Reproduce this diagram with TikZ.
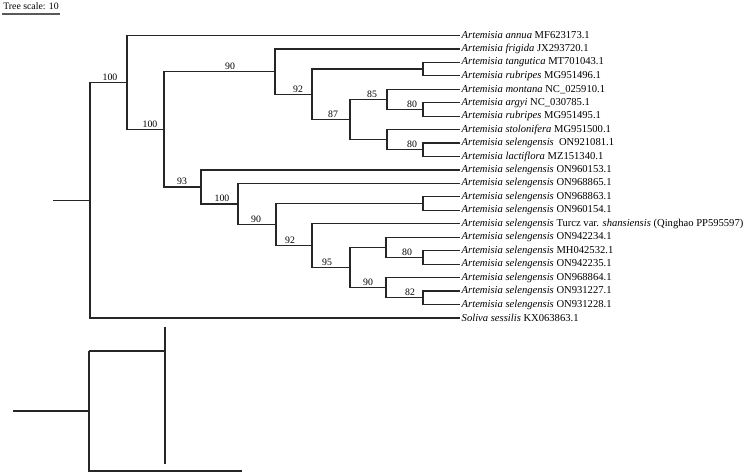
\documentclass[tikz,border=0pt]{standalone}
\usepackage{fontspec}
\setmainfont{Liberation Serif}
\begin{document}
\begin{tikzpicture}[x=1pt,y=-1pt,
  branch/.style={line width=1.2pt,draw=black!85},
  tip/.style={anchor=west,inner sep=1.5pt,font=\fontsize{10.6}{12}\selectfont},
  boot/.style={anchor=base,inner sep=0pt,font=\fontsize{9.8}{11}\selectfont},
  scalebar/.style={line width=1.4pt,draw=black!65}]
\useasboundingbox (0,0) rectangle (745,473);
% scale
\node[anchor=base,inner sep=0pt,font=\fontsize{9.8}{11}\selectfont] (scaletxt) at (31,9.5) {Tree scale: 10};
\coordinate (sbL) at (2,14);
\coordinate (sbR) at (60,14);
\draw[scalebar] (sbL) -- (sbR);
% leaves
\def\tipx{460}
\node[tip] (l0)  at (\tipx,35.5)  {\textit{Artemisia annua} MF623173.1};
\node[tip] (l1)  at (\tipx,48.95) {\textit{Artemisia frigida} JX293720.1};
\node[tip] (l2)  at (\tipx,62.4)  {\textit{Artemisia tangutica} MT701043.1};
\node[tip] (l3)  at (\tipx,75.85) {\textit{Artemisia rubripes} MG951496.1};
\node[tip] (l4)  at (\tipx,89.3)  {\textit{Artemisia montana} NC\_025910.1};
\node[tip] (l5)  at (\tipx,102.75){\textit{Artemisia argyi} NC\_030785.1};
\node[tip] (l6)  at (\tipx,116.2) {\textit{Artemisia rubripes} MG951495.1};
\node[tip] (l7)  at (\tipx,129.65){\textit{Artemisia stolonifera} MG951500.1};
\node[tip] (l8)  at (\tipx,143.1) {\textit{Artemisia selengensis}\hspace{2.5pt} ON921081.1};
\node[tip] (l9)  at (\tipx,156.55){\textit{Artemisia lactiflora} MZ151340.1};
\node[tip] (l10) at (\tipx,170)   {\textit{Artemisia selengensis} ON960153.1};
\node[tip] (l11) at (\tipx,183.45){\textit{Artemisia selengensis} ON968865.1};
\node[tip] (l12) at (\tipx,196.9) {\textit{Artemisia selengensis} ON968863.1};
\node[tip] (l13) at (\tipx,210.35){\textit{Artemisia selengensis} ON960154.1};
\node[tip] (l14) at (\tipx,223.8) {\textit{Artemisia selengensis} Turcz var. \textit{shansiensis} (Qinghao PP595597)};
\node[tip] (l15) at (\tipx,237.25){\textit{Artemisia selengensis} ON942234.1};
\node[tip] (l16) at (\tipx,250.7) {\textit{Artemisia selengensis} MH042532.1};
\node[tip] (l17) at (\tipx,264.15){\textit{Artemisia selengensis} ON942235.1};
\node[tip] (l18) at (\tipx,277.6) {\textit{Artemisia selengensis} ON968864.1};
\node[tip] (l19) at (\tipx,291.05){\textit{Artemisia selengensis} ON931227.1};
\node[tip] (l20) at (\tipx,304.5) {\textit{Artemisia selengensis} ON931228.1};
\node[tip] (l21) at (\tipx,317.95){\textit{Soliva sessilis} KX063863.1};
% internal nodes
\coordinate (F) at (423,69.1);
\coordinate (I) at (423,109.5);
\coordinate (H) at (387,99.4);
\coordinate (K) at (423,149.8);
\coordinate (J) at (387,139.7);
\coordinate (G) at (350,119.6);
\coordinate (E) at (312,94.4);
\coordinate (C) at (275,71.7);
\coordinate (N) at (423,203.6);
\coordinate (T) at (423,257.4);
\coordinate (Q) at (386,247.3);
\coordinate (U) at (423,297.8);
\coordinate (S) at (386,287.7);
\coordinate (P) at (350,267.5);
\coordinate (O) at (312,245.7);
\coordinate (M) at (276,224.6);
\coordinate (L) at (238,204);
\coordinate (D) at (201,187);
\coordinate (B) at (164,129.4);
\coordinate (A) at (127,82.4);
\coordinate (R) at (90,200.2);
\coordinate (Rst) at (53,200.2);
% branches
\draw[branch] (Rst) -- (R);
\draw[branch] (R) |- (A);  \draw[branch] (R) |- (l21.west);
\draw[branch] (A) |- (l0.west); \draw[branch] (A) |- (B);
\draw[branch] (B) |- (C); \draw[branch] (B) |- (D);
\draw[branch] (C) |- (l1.west); \draw[branch] (C) |- (E);
\draw[branch] (E) |- (F); \draw[branch] (E) |- (G);
\draw[branch] (F) |- (l2.west); \draw[branch] (F) |- (l3.west);
\draw[branch] (G) |- (H); \draw[branch] (G) |- (J);
\draw[branch] (H) |- (l4.west); \draw[branch] (H) |- (I);
\draw[branch] (I) |- (l5.west); \draw[branch] (I) |- (l6.west);
\draw[branch] (J) |- (l7.west); \draw[branch] (J) |- (K);
\draw[branch] (K) |- (l8.west); \draw[branch] (K) |- (l9.west);
\draw[branch] (D) |- (l10.west); \draw[branch] (D) |- (L);
\draw[branch] (L) |- (l11.west); \draw[branch] (L) |- (M);
\draw[branch] (M) |- (N); \draw[branch] (M) |- (O);
\draw[branch] (N) |- (l12.west); \draw[branch] (N) |- (l13.west);
\draw[branch] (O) |- (l14.west); \draw[branch] (O) |- (P);
\draw[branch] (P) |- (Q); \draw[branch] (P) |- (S);
\draw[branch] (Q) |- (l15.west); \draw[branch] (Q) |- (T);
\draw[branch] (T) |- (l16.west); \draw[branch] (T) |- (l17.west);
\draw[branch] (S) |- (l18.west); \draw[branch] (S) |- (U);
\draw[branch] (U) |- (l19.west); \draw[branch] (U) |- (l20.west);
% bootstrap labels
\node[boot] (bA) at (110,80.4) {100};
\node[boot] (bB) at (150,127.4) {100};
\node[boot] (bC) at (230,69.7) {90};
\node[boot] (bE) at (298,92.4) {92};
\node[boot] (bG) at (333,117.6) {87};
\node[boot] (bH) at (372,97.4) {85};
\node[boot] (bI) at (412,107.5) {80};
\node[boot] (bK) at (412,147.8) {80};
\node[boot] (bD) at (182,185) {93};
\node[boot] (bL) at (222,202) {100};
\node[boot] (bM) at (256,222.6) {90};
\node[boot] (bO) at (290,243.7) {92};
\node[boot] (bP) at (327,265.5) {95};
\node[boot] (bS) at (368,285.7) {90};
\node[boot] (bT) at (407,255.4) {80};
\node[boot] (bU) at (410,295.8) {82};
% stray lower drawing
\coordinate (x1) at (89,351);
\coordinate (x2) at (165,351);
\coordinate (x3) at (165,327);
\coordinate (x4) at (165,464);
\coordinate (x5) at (89,471);
\coordinate (x6) at (242,471);
\coordinate (x7) at (13,411);
\coordinate (x8) at (89,411);
\draw[branch] (x1) -- (x2);
\draw[branch] (x3) -- (x4);
\draw[branch] (x1) -- (x5) -- (x6);
\draw[branch] (x7) -- (x8);
\end{tikzpicture}
\end{document}
